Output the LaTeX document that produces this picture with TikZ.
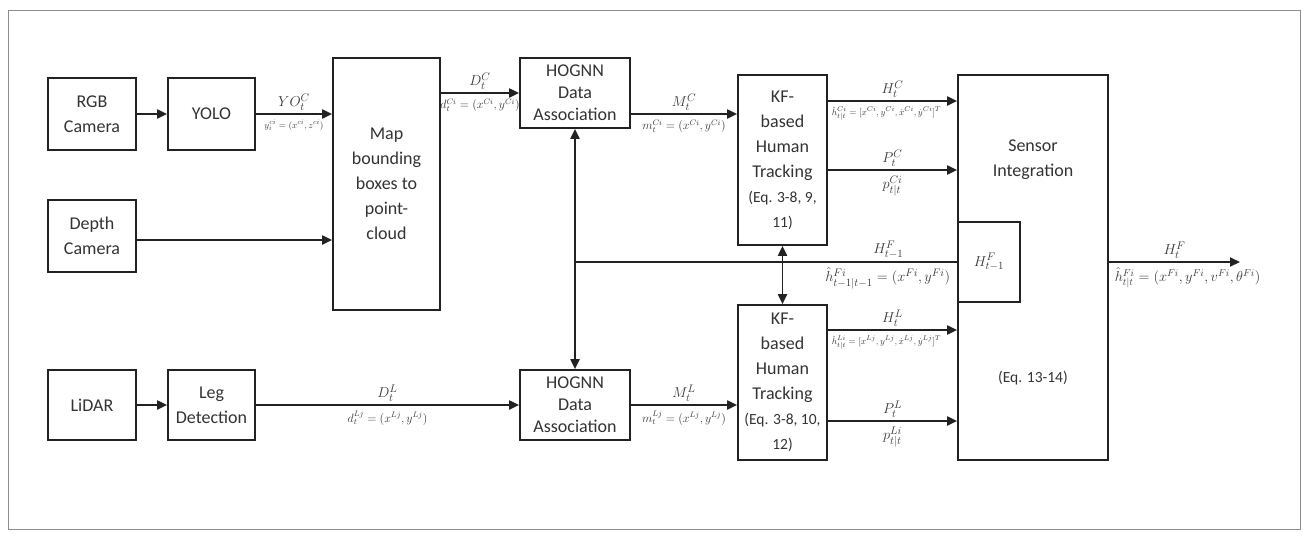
\documentclass[tikz,border=0pt]{standalone}
\usepackage{fontspec}
\setmainfont{Carlito}
\usetikzlibrary{arrows.meta,calc}
\definecolor{ln}{HTML}{222222}
\definecolor{tx}{HTML}{333333}
\definecolor{lb}{HTML}{3A3A3A}
\begin{document}
\begin{tikzpicture}[x=1pt,y=-1pt,
  box/.style={draw=ln,line width=1.7pt,align=center,text=tx,font=\fontsize{18}{25}\selectfont,inner sep=0pt},
  hbox/.style={box,font=\fontsize{18}{22}\selectfont},
  arr/.style={draw=ln,line width=1.9pt,-{Triangle[length=10pt,width=9pt]}},
  darr/.style={draw=ln,line width=1.9pt,{Triangle[length=10pt,width=9pt]}-{Triangle[length=10pt,width=9pt]}},
  plain/.style={draw=ln,line width=1.9pt},
  lab/.style={text=lb,font=\fontsize{15}{17}\selectfont,inner sep=3pt},
  sml/.style={text=lb,font=\fontsize{11.5}{13}\selectfont,inner sep=5pt},
  tiny/.style={text=lb,font=\fontsize{9.5}{11}\selectfont,inner sep=5pt}
]
\path[use as bounding box] (0,0) rectangle (1309,539);
\draw[black!45,line width=0.8pt] (8,10) rectangle (1300,529);

% boxes
\node[box,minimum width=88pt,minimum height=72pt] (rgb) at (92,114) {RGB\\Camera};
\node[box,minimum width=87pt,minimum height=72pt] (yolo) at (211.5,114) {YOLO};
\node[box,minimum width=88pt,minimum height=72pt] (depth) at (92,236) {Depth\\Camera};
\node[box,minimum width=107pt,minimum height=252pt] (map) at (386.5,184) {Map\\bounding\\boxes to\\point-\\cloud};
\node[hbox,minimum width=110pt,minimum height=70pt] (hogA) at (575,93) {HOGNN\\Data\\Association};
\node[box,minimum width=89pt,minimum height=170pt] (kfA) at (782.5,160) {KF-\\based\\Human\\Tracking\\{\fontsize{15.5}{20}\selectfont(Eq. 3-8, 9,}\\{\fontsize{15.5}{20}\selectfont 11)}};
\node[box,minimum width=150pt,minimum height=385pt] (sens) at (1033,267.5) {};
\node[text=tx,align=center,font=\fontsize{18}{25}\selectfont] (sensT) at (1033,160) {Sensor\\Integration};
\node[text=tx,font=\fontsize{15.5}{20}\selectfont] (sensE) at (1033,378) {(Eq. 13-14)};
\node[box,minimum width=62pt,minimum height=80pt,font=\fontsize{15}{17}\selectfont,text=lb] (hf) at (989,262) {$H_{t-1}^{F}$};
\node[box,minimum width=88pt,minimum height=70pt] (lidar) at (92,405) {LiDAR};
\node[box,minimum width=87pt,minimum height=70pt] (leg) at (211.5,405) {Leg\\Detection};
\node[hbox,minimum width=110pt,minimum height=70pt] (hogB) at (575,405) {HOGNN\\Data\\Association};
\node[box,minimum width=89pt,minimum height=155pt] (kfB) at (782.5,382.5) {KF-\\based\\Human\\Tracking\\{\fontsize{15.5}{20}\selectfont(Eq. 3-8, 10,}\\{\fontsize{15.5}{20}\selectfont 12)}};

\coordinate (yA) at (0,114);
\coordinate (yHC) at (0,101);
\coordinate (yPC) at (0,170);
\coordinate (yDep) at (0,240);
\coordinate (yHL) at (0,330);
\coordinate (yPL) at (0,421);
\coordinate (out) at (1240,262);

% top row
\draw[arr] (rgb) -- (yolo);
\draw[arr] (yolo) -- node[lab,above]{$YO_t^{C}$} node[tiny,below]{$y_i^{ci}=(x^{ci},z^{ci})$} (map.west |- yolo);
\draw[arr] (depth.east |- yDep) -- (map.west |- yDep);
\draw[arr] (map.east |- hogA) -- node[lab,above]{$D_t^{C}$} node[sml,below]{$d_t^{Ci}=(x^{Ci},y^{Ci})$} (hogA.west);
\draw[arr] (hogA.east |- yA) -- node[lab,above]{$M_t^{C}$} node[sml,below]{$m_t^{Ci}=(x^{Ci},y^{Ci})$} (kfA.west |- yA);
\draw[arr] (kfA.east |- yHC) -- node[lab,above]{$H_t^{C}$} node[tiny,anchor=north west,pos=0,xshift=-2pt]{$\hat{h}_{t|t}^{Ci}=[x^{Ci},y^{Ci},\dot{x}^{Ci},\dot{y}^{Ci}]^{T}$} (sens.west |- yHC);
\draw[arr] (kfA.east |- yPC) -- node[lab,above]{$P_t^{C}$} node[lab,below,inner sep=5pt]{$p_{t|t}^{Ci}$} (sens.west |- yPC);

% middle
\draw[plain] (hf.west) -- node[lab,above,pos=0.18]{$H_{t-1}^{F}$} node[lab,anchor=north east,pos=0,xshift=-1pt,inner sep=5pt]{$\hat{h}_{t-1|t-1}^{Fi}=(x^{Fi},y^{Fi})$} (hf.west -| hogA);
\draw[darr] (hogA.south) -- (hogB.north);
\draw[darr] (kfA.south) -- (kfB.north);
\draw[arr] (sens.east |- out) -- node[lab,above]{$H_t^{F}$} node[lab,anchor=north west,pos=0,xshift=0pt,inner sep=5pt,font=\fontsize{14}{16}\selectfont]{$\hat{h}_{t|t}^{Fi}=(x^{Fi},y^{Fi},v^{Fi},\theta^{Fi})$} (out);

% bottom row
\draw[arr] (lidar) -- (leg);
\draw[arr] (leg) -- node[lab,above]{$D_t^{L}$} node[sml,below]{$d_t^{Lj}=(x^{Lj},y^{Lj})$} (hogB);
\draw[arr] (hogB) -- node[lab,above]{$M_t^{L}$} node[sml,below]{$m_t^{Lj}=(x^{Lj},y^{Lj})$} (kfB.west |- hogB);
\draw[arr] (kfB.east |- yHL) -- node[lab,above]{$H_t^{L}$} node[tiny,anchor=north west,pos=0,xshift=-2pt]{$\hat{h}_{t|t}^{Li}=[x^{Lj},y^{Lj},\dot{x}^{Lj},\dot{y}^{Lj}]^{T}$} (sens.west |- yHL);
\draw[arr] (kfB.east |- yPL) -- node[lab,above]{$P_t^{L}$} node[lab,below,inner sep=5pt]{$p_{t|t}^{Li}$} (sens.west |- yPL);
\end{tikzpicture}
\end{document}
